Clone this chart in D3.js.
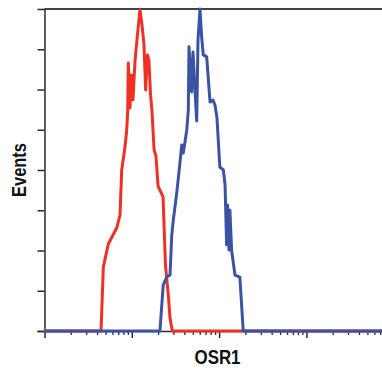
<!DOCTYPE html>
<html><head><meta charset="utf-8">
<script src="https://cdn.jsdelivr.net/npm/d3@7"></script>
<style>html,body{margin:0;padding:0;background:#fff;overflow:hidden}</style>
</head><body>
<script>
// Red (control) histogram: intensity (log) and events
const redX = [1, 4.44, 4.72, 5.38, 6.71, 7.33, 7.66, 8.36, 8.74, 8.98, 9.12, 9.53, 9.93, 10.3, 10.9, 11.6, 12.4, 13.1, 13.8, 14.4, 15.1, 15.7, 16.4, 17.0, 18.0, 18.9, 20.0, 22.8, 24.3, 26.2, 27.4, 29.1, 10000];
const redY = [0, 0, 1.59, 2.16, 2.56, 2.88, 4.0, 4.57, 4.99, 5.49, 6.66, 5.54, 6.36, 5.74, 6.73, 7.35, 7.98, 7.60, 7.11, 5.99, 6.86, 6.73, 5.86, 5.49, 4.50, 4.35, 3.60, 3.33, 1.64, 0.89, 0.32, 0, 0];
// Blue (OSR1) histogram
const blueX = [1, 21.0, 22.9, 25.1, 27.4, 28.7, 29.9, 32.7, 35.6, 37.3, 38.9, 42.6, 44.4, 45.2, 48.5, 50.2, 52.9, 55.4, 57.3, 60.4, 63.2, 65.9, 72.1, 78.7, 85.1, 89.8, 94.6, 102, 112, 117, 122, 125, 130, 133, 139, 152, 173, 189, 10000];
const blueY = [0, 0, 1.14, 1.34, 1.39, 2.39, 2.76, 3.43, 4.17, 4.62, 4.42, 4.99, 5.49, 7.06, 5.94, 6.93, 5.99, 5.22, 7.23, 8.0, 7.28, 6.86, 6.81, 5.69, 5.74, 5.61, 5.29, 4.07, 4.0, 3.63, 2.14, 3.13, 2.01, 3.0, 2.01, 1.39, 1.34, 0, 0];
const yTicks = [0, 1, 2, 3, 4, 5, 6, 7];
const xMajor = [1, 10, 100, 1000, 10000];
const xLabel = "OSR1";
const yLabel = "Events";

const W = 382, H = 368;
const svg = d3.select("body").append("svg").attr("width", W).attr("height", H);
const x = d3.scaleLog().domain([1, 10000]).range([44.5, 393.7]);
const y = d3.scaleLinear().domain([0, 8]).range([331, 9]);

const xMinor = [];
for (let e = 0; e < 4; e++) for (let k = 2; k <= 9; k++) xMinor.push(k * Math.pow(10, e));

const axisColor = "#2b2b2b";
// top border
svg.append("line").attr("x1", 44.5).attr("x2", W).attr("y1", y(8)).attr("y2", y(8))
  .attr("stroke", "#444").attr("stroke-width", 2);

// y axis
const yAxis = svg.append("g").attr("transform", "translate(44.5,0)")
  .call(d3.axisLeft(y).tickValues(yTicks).tickSize(7).tickFormat(""));
yAxis.select(".domain").attr("stroke", axisColor).attr("stroke-width", 1.5);
yAxis.selectAll(".tick line").attr("stroke", axisColor).attr("stroke-width", 1.5);

// x axis minor + major
const xAxisMinor = svg.append("g").attr("transform", "translate(0,331)")
  .call(d3.axisBottom(x).tickValues(xMinor).tickSize(4).tickFormat(""));
xAxisMinor.select(".domain").remove();
xAxisMinor.selectAll(".tick line").attr("stroke", axisColor).attr("stroke-width", 1.3);
const xAxis = svg.append("g").attr("transform", "translate(0,331)")
  .call(d3.axisBottom(x).tickValues(xMajor).tickSize(7).tickSizeOuter(0).tickFormat(""));
xAxis.select(".domain").attr("stroke", axisColor).attr("stroke-width", 1.5);
xAxis.selectAll(".tick line").attr("stroke", axisColor).attr("stroke-width", 1.5);

const line = d3.line().x(d => x(d[0])).y(d => y(d[1]));
svg.append("path").datum(d3.zip(redX, redY)).attr("d", line)
  .attr("fill", "none").attr("stroke", "#ee3124").attr("stroke-width", 3)
  .attr("stroke-linejoin", "round");
svg.append("path").datum(d3.zip(blueX, blueY)).attr("d", line)
  .attr("fill", "none").attr("stroke", "#3b53a4").attr("stroke-width", 3)
  .attr("stroke-linejoin", "round");

svg.append("text").attr("x", 217.5).attr("y", 364).attr("text-anchor", "middle")
  .attr("font-family", "Liberation Sans, Arial, sans-serif").attr("font-weight", "bold")
  .attr("font-size", 21).attr("textLength", 46).attr("lengthAdjust", "spacingAndGlyphs")
  .attr("fill", "#111").text(xLabel);
svg.append("text").attr("transform", "translate(26,170) rotate(-90)").attr("text-anchor", "middle")
  .attr("font-family", "Liberation Sans, Arial, sans-serif").attr("font-weight", "bold")
  .attr("font-size", 21).attr("textLength", 54).attr("lengthAdjust", "spacingAndGlyphs")
  .attr("fill", "#111").text(yLabel);
</script>
</body></html>
